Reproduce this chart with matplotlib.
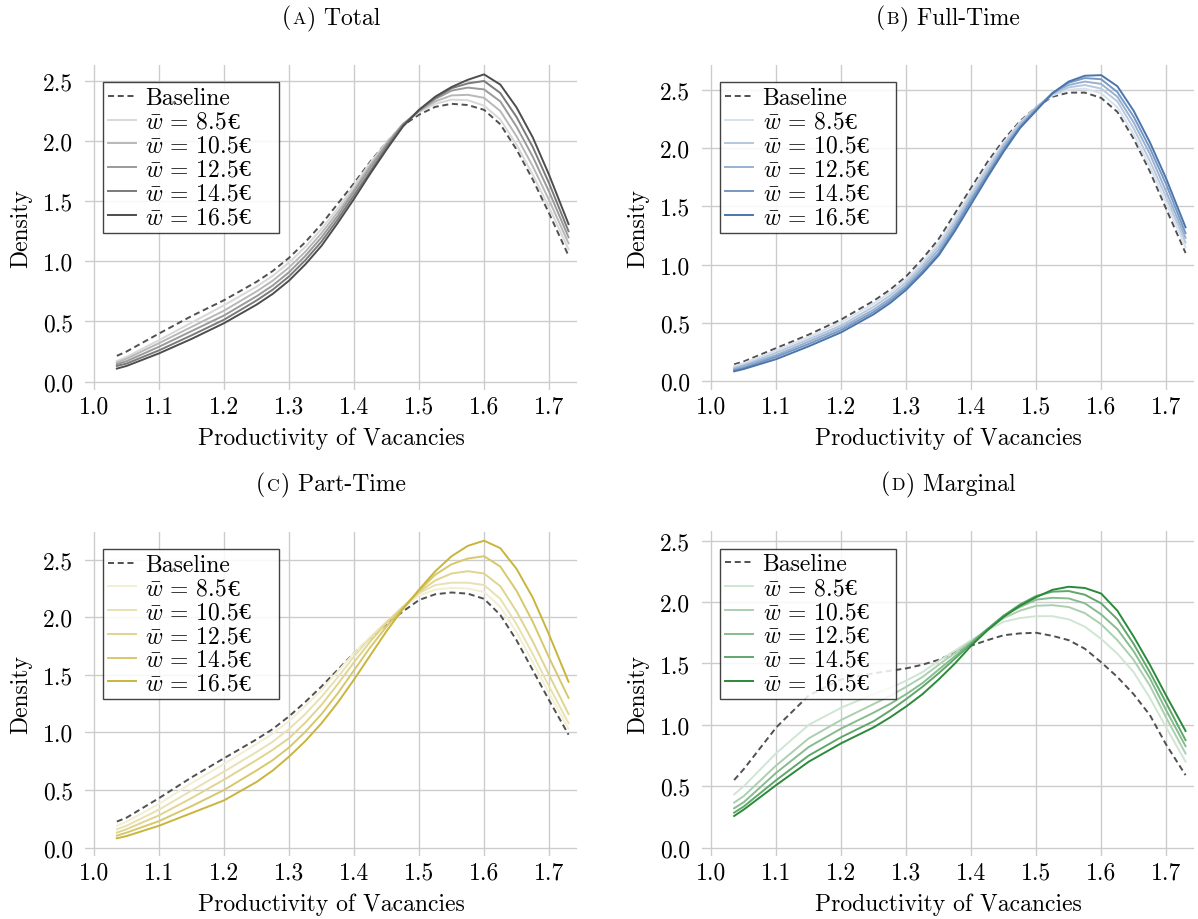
import matplotlib
matplotlib.use("Agg")
import matplotlib.pyplot as plt
from matplotlib.offsetbox import TextArea, HPacker, AnchoredOffsetbox, DrawingArea
import numpy as np

plt.rcParams['font.family'] = ['cmr10', 'DejaVu Serif']
plt.rcParams['mathtext.fontset'] = 'cm'
plt.rcParams['axes.formatter.use_mathtext'] = True
plt.rcParams['axes.unicode_minus'] = False

# ---------------- data ----------------
x = [1.035, 1.05, 1.1, 1.15, 1.2, 1.25, 1.275, 1.3, 1.325, 1.35, 1.375, 1.4,
     1.425, 1.45, 1.475, 1.5, 1.525, 1.55, 1.575, 1.6, 1.625, 1.65, 1.675,
     1.7, 1.73]

wage_labels = ["8.5", "10.5", "12.5", "14.5", "16.5"]

# (A) Total
total_baseline = [0.214, 0.25, 0.40, 0.545, 0.677, 0.83, 0.92, 1.03, 1.16, 1.31, 1.48, 1.65,
                  1.83, 1.99, 2.13, 2.22, 2.285, 2.31, 2.30, 2.26, 2.14, 1.93, 1.68, 1.40, 1.046]
total_w85 = [0.172, 0.205, 0.345, 0.49, 0.635, 0.79, 0.88, 0.99, 1.12, 1.27, 1.44, 1.63,
             1.82, 1.99, 2.14, 2.24, 2.31, 2.345, 2.34, 2.295, 2.18, 1.97, 1.72, 1.45, 1.10]
total_w105 = [0.158, 0.19, 0.32, 0.455, 0.59, 0.75, 0.84, 0.95, 1.08, 1.235, 1.41, 1.60,
              1.80, 1.98, 2.14, 2.25, 2.33, 2.38, 2.385, 2.36, 2.25, 2.04, 1.79, 1.51, 1.15]
total_w125 = [0.144, 0.17, 0.29, 0.42, 0.55, 0.71, 0.80, 0.91, 1.045, 1.20, 1.38, 1.58,
              1.78, 1.97, 2.14, 2.25, 2.35, 2.42, 2.445, 2.43, 2.33, 2.12, 1.87, 1.58, 1.20]
total_w145 = [0.13, 0.15, 0.26, 0.385, 0.515, 0.675, 0.765, 0.875, 1.01, 1.165, 1.35, 1.55,
              1.75, 1.95, 2.13, 2.26, 2.36, 2.44, 2.48, 2.50, 2.40, 2.20, 1.95, 1.65, 1.25]
total_w165 = [0.108, 0.13, 0.235, 0.355, 0.486, 0.64, 0.73, 0.84, 0.975, 1.13, 1.32, 1.52,
              1.73, 1.93, 2.12, 2.26, 2.37, 2.45, 2.51, 2.555, 2.47, 2.28, 2.03, 1.72, 1.31]

# (B) Full-Time
full_baseline = [0.145, 0.17, 0.285, 0.40, 0.53, 0.69, 0.785, 0.90, 1.05, 1.22, 1.44, 1.66,
                 1.88, 2.07, 2.23, 2.35, 2.44, 2.475, 2.475, 2.43, 2.31, 2.08, 1.80, 1.48, 1.10]
full_w85 = [0.13, 0.155, 0.265, 0.38, 0.505, 0.665, 0.76, 0.875, 1.02, 1.19, 1.40, 1.63,
            1.85, 2.05, 2.22, 2.35, 2.45, 2.50, 2.51, 2.47, 2.35, 2.12, 1.84, 1.53, 1.15]
full_w105 = [0.115, 0.14, 0.245, 0.36, 0.48, 0.64, 0.735, 0.85, 0.995, 1.16, 1.37, 1.60,
             1.82, 2.03, 2.21, 2.35, 2.46, 2.52, 2.54, 2.51, 2.40, 2.17, 1.89, 1.58, 1.19]
full_w125 = [0.105, 0.13, 0.225, 0.34, 0.46, 0.615, 0.71, 0.825, 0.97, 1.13, 1.34, 1.57,
             1.79, 2.01, 2.19, 2.34, 2.47, 2.54, 2.57, 2.55, 2.44, 2.22, 1.95, 1.63, 1.23]
full_w145 = [0.095, 0.115, 0.21, 0.32, 0.44, 0.595, 0.69, 0.805, 0.945, 1.10, 1.315, 1.55,
             1.77, 1.99, 2.18, 2.33, 2.47, 2.56, 2.60, 2.59, 2.48, 2.27, 2.00, 1.69, 1.27]
full_w165 = [0.085, 0.105, 0.19, 0.30, 0.42, 0.575, 0.67, 0.785, 0.925, 1.08, 1.29, 1.52,
             1.75, 1.97, 2.17, 2.32, 2.47, 2.57, 2.62, 2.625, 2.53, 2.32, 2.05, 1.74, 1.32]

# (C) Part-Time
part_baseline = [0.226, 0.26, 0.43, 0.61, 0.776, 0.94, 1.03, 1.14, 1.265, 1.40, 1.545, 1.69,
                 1.82, 1.94, 2.05, 2.15, 2.20, 2.215, 2.205, 2.16, 2.02, 1.80, 1.54, 1.28, 0.98]
part_w85 = [0.19, 0.225, 0.38, 0.56, 0.727, 0.90, 0.99, 1.10, 1.23, 1.37, 1.53, 1.69,
            1.83, 1.96, 2.08, 2.19, 2.24, 2.255, 2.25, 2.22, 2.09, 1.87, 1.61, 1.34, 1.03]
part_w105 = [0.16, 0.19, 0.33, 0.495, 0.66, 0.83, 0.92, 1.03, 1.16, 1.31, 1.48, 1.66,
             1.82, 1.96, 2.09, 2.21, 2.28, 2.30, 2.30, 2.28, 2.16, 1.94, 1.68, 1.40, 1.08]
part_w125 = [0.13, 0.16, 0.28, 0.43, 0.59, 0.76, 0.85, 0.95, 1.085, 1.24, 1.42, 1.61,
             1.79, 1.95, 2.09, 2.22, 2.32, 2.38, 2.40, 2.38, 2.27, 2.05, 1.79, 1.50, 1.16]
part_w145 = [0.104, 0.13, 0.23, 0.36, 0.50, 0.67, 0.76, 0.87, 1.005, 1.16, 1.34, 1.54,
             1.74, 1.92, 2.08, 2.23, 2.37, 2.46, 2.51, 2.53, 2.44, 2.23, 1.96, 1.65, 1.30]
part_w165 = [0.081, 0.10, 0.19, 0.30, 0.41, 0.57, 0.67, 0.79, 0.925, 1.08, 1.26, 1.46,
             1.67, 1.88, 2.07, 2.24, 2.40, 2.53, 2.62, 2.665, 2.60, 2.42, 2.17, 1.85, 1.44]

# (D) Marginal
marg_baseline = [0.55, 0.64, 0.98, 1.24, 1.37, 1.42, 1.44, 1.46, 1.49, 1.53, 1.59, 1.645,
                 1.69, 1.73, 1.745, 1.75, 1.725, 1.69, 1.62, 1.51, 1.39, 1.25, 1.08, 0.84, 0.59]
marg_w85 = [0.433, 0.50, 0.77, 1.00, 1.14, 1.25, 1.30, 1.36, 1.43, 1.52, 1.605, 1.69,
            1.77, 1.84, 1.87, 1.885, 1.885, 1.86, 1.80, 1.70, 1.58, 1.43, 1.22, 0.98, 0.70]
marg_w105 = [0.366, 0.42, 0.67, 0.89, 1.04, 1.17, 1.235, 1.31, 1.39, 1.49, 1.585, 1.68,
             1.78, 1.87, 1.93, 1.97, 1.975, 1.96, 1.91, 1.82, 1.69, 1.53, 1.32, 1.06, 0.766]
marg_w125 = [0.32, 0.37, 0.61, 0.82, 0.97, 1.10, 1.17, 1.25, 1.34, 1.45, 1.56, 1.67,
             1.78, 1.89, 1.96, 2.02, 2.035, 2.03, 1.99, 1.90, 1.78, 1.60, 1.38, 1.12, 0.826]
marg_w145 = [0.284, 0.335, 0.55, 0.75, 0.90, 1.03, 1.115, 1.21, 1.31, 1.42, 1.54, 1.66,
             1.78, 1.89, 1.98, 2.05, 2.085, 2.09, 2.06, 1.99, 1.86, 1.66, 1.43, 1.18, 0.875]
marg_w165 = [0.257, 0.31, 0.51, 0.70, 0.85, 0.98, 1.06, 1.15, 1.25, 1.37, 1.50, 1.645,
             1.77, 1.88, 1.97, 2.04, 2.10, 2.125, 2.115, 2.07, 1.93, 1.72, 1.49, 1.24, 0.95]

x_ticks = [1.0, 1.1, 1.2, 1.3, 1.4, 1.5, 1.6, 1.7]
x_tick_labels = ["1.0", "1.1", "1.2", "1.3", "1.4", "1.5", "1.6", "1.7"]
y_ticks = [0.0, 0.5, 1.0, 1.5, 2.0, 2.5]
y_tick_labels = ["0.0", "0.5", "1.0", "1.5", "2.0", "2.5"]

panels = [
    dict(letter="A", name="Total", base="#4d4d4d", baseline=total_baseline,
         series=[total_w85, total_w105, total_w125, total_w145, total_w165],
         px=(85, 66, 577, 391), ylim=(-0.07, 2.633)),
    dict(letter="B", name="Full-Time", base="#4a76ad", baseline=full_baseline,
         series=[full_w85, full_w105, full_w125, full_w145, full_w165],
         px=(702.3, 66, 1194, 391), ylim=(-0.075, 2.712)),
    dict(letter="C", name="Part-Time", base="#c9b53c", baseline=part_baseline,
         series=[part_w85, part_w105, part_w125, part_w145, part_w165],
         px=(85, 532.7, 577, 857), ylim=(-0.073, 2.743)),
    dict(letter="D", name="Marginal", base="#2b8a3a", baseline=marg_baseline,
         series=[marg_w85, marg_w105, marg_w125, marg_w145, marg_w165],
         px=(702.3, 532.3, 1194, 857), ylim=(-0.069, 2.577)),
]

alphas = [0.22, 0.4, 0.57, 0.75, 1.0]
W, H = 1198, 920
FS = 17

fig = plt.figure(figsize=(W / 100, H / 100), dpi=100)


def blend(hexcol, a):
    c = np.array(matplotlib.colors.to_rgb(hexcol))
    return tuple(a * c + (1 - a) * np.ones(3))


for p in panels:
    l, t, r, b = p["px"]
    ax = fig.add_axes([l / W, (H - b) / H, (r - l) / W, (b - t) / H])
    for s in ax.spines.values():
        s.set_visible(False)
    ax.set_xlim(0.986, 1.743)
    ax.set_ylim(*p["ylim"])
    ax.set_xticks(x_ticks)
    ax.set_xticklabels(x_tick_labels)
    ax.set_yticks(y_ticks)
    ax.set_yticklabels(y_tick_labels)
    ax.tick_params(length=0, labelsize=FS)
    ax.tick_params(axis='y', pad=8.5)
    ax.tick_params(axis='x', pad=4)
    ax.grid(True, color="#cccccc", lw=1.0)
    ax.set_axisbelow(True)

    ln, = ax.plot(x, p["baseline"], color="#505050", lw=1.4, label="Baseline")
    ln.set_dashes([3.1, 1.9])
    for vals, a, wl in zip(p["series"], alphas, wage_labels):
        ax.plot(x, vals, color=blend(p["base"], a), lw=1.4,
                label=r"$\bar{w}$ = " + wl)

    leg = ax.legend(loc="upper left",
                    bbox_to_anchor=(17.8 / (r - l), 1 - 17.3 / (b - t)),
                    borderaxespad=0, fontsize=FS, frameon=True, fancybox=False,
                    framealpha=0.85, edgecolor="#222222", handlelength=1.2,
                    handletextpad=0.4, labelspacing=0.07, borderpad=0.2)
    leg.get_frame().set_linewidth(1.0)
    # append the euro sign (not in cmr10) and a little right padding
    for col in leg._legend_handle_box.get_children():
        for item in col.get_children():
            ch = item.get_children()
            txt = ch[1]
            kids = [txt]
            if txt._text.get_text().startswith("$"):
                kids.append(TextArea("\u20ac", textprops=dict(
                    fontsize=FS, family="Liberation Serif")))
            kids.append(DrawingArea(17, 0))
            newbox = HPacker(children=kids, align="baseline", pad=0, sep=0)
            newbox.set_figure(fig)
            ch[1] = newbox

    ax.set_xlabel("Productivity of Vacancies", fontsize=FS, labelpad=6)
    ax.set_ylabel("Density", fontsize=FS, labelpad=8)

    parts = [TextArea("(", textprops=dict(fontsize=FS)),
             TextArea(p["letter"], textprops=dict(fontsize=FS * 0.75)),
             TextArea(") " + p["name"], textprops=dict(fontsize=FS))]
    box = HPacker(children=parts, align="baseline", pad=0, sep=1)
    anch = AnchoredOffsetbox(loc="center", child=box, pad=0, borderpad=0,
                             frameon=False,
                             bbox_to_anchor=(0.5, 1 + 48 / (b - t)),
                             bbox_transform=ax.transAxes)
    ax.add_artist(anch)

fig.savefig("out.png", dpi=100)
